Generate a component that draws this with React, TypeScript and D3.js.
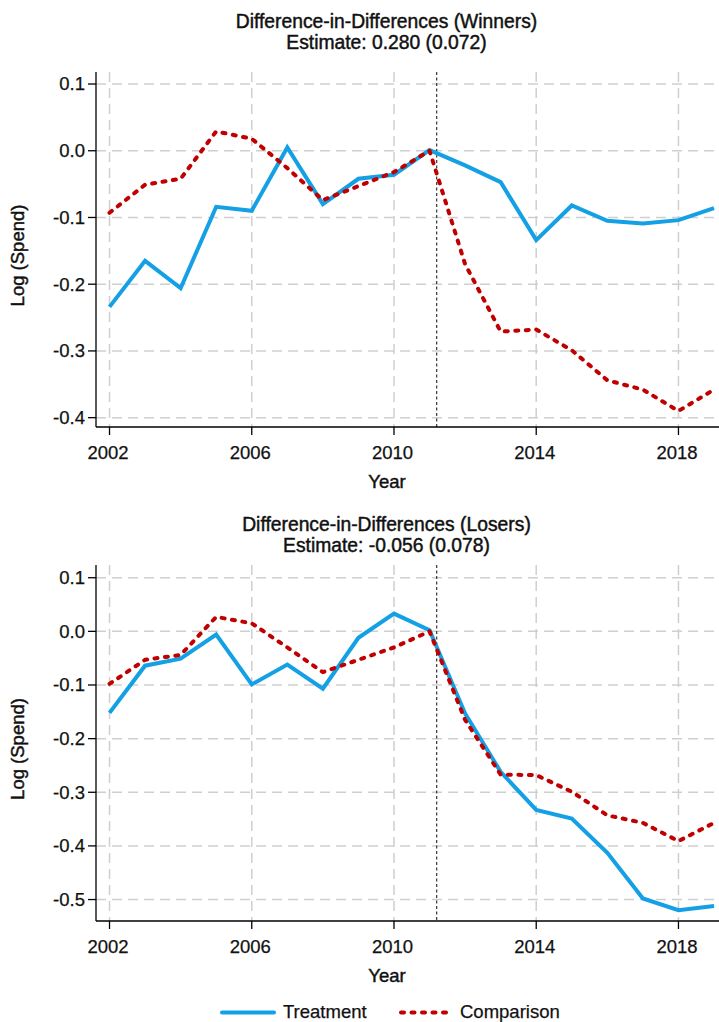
import React from 'react';
import * as d3 from 'd3';

// years on the x axis
const years = [2002, 2003, 2004, 2005, 2006, 2007, 2008, 2009, 2010, 2011, 2012, 2013, 2014, 2015, 2016, 2017, 2018, 2019];

// log spend
const winnersTreatment = [-0.234, -0.165, -0.206, -0.084, -0.090, 0.005, -0.080, -0.042, -0.036, 0.001, -0.022, -0.047, -0.134, -0.082, -0.105, -0.109, -0.104, -0.086];
const winnersComparison = [-0.093, -0.051, -0.042, 0.029, 0.018, -0.026, -0.074, -0.053, -0.032, 0.000, -0.170, -0.271, -0.268, -0.299, -0.344, -0.358, -0.390, -0.358];
const losersTreatment = [-0.152, -0.064, -0.051, -0.006, -0.099, -0.062, -0.107, -0.012, 0.033, 0.002, -0.153, -0.262, -0.333, -0.349, -0.413, -0.498, -0.520, -0.512];
const losersComparison = [-0.098, -0.053, -0.044, 0.027, 0.015, -0.030, -0.076, -0.053, -0.030, 0.000, -0.165, -0.267, -0.268, -0.299, -0.343, -0.357, -0.391, -0.357];

const xTicks = [2002, 2006, 2010, 2014, 2018];
const winnersYTicks = [0.1, 0.0, -0.1, -0.2, -0.3, -0.4];
const losersYTicks = [0.1, 0.0, -0.1, -0.2, -0.3, -0.4, -0.5];
const policyYear = 2011.2; // vertical dotted marker

const BLUE = '#14a0e4';
const RED = '#c00000';
const FONT = '"Liberation Sans", Arial, Helvetica, sans-serif';
const FS = 18.5;
const TITLE_FS = 19.3;

const x = d3.scaleLinear().domain([2001.62, 2019.14]).range([96, 719]);

interface PanelProps {
  top: number;
  bottom: number;
  yDomain: [number, number];
  yTicks: number[];
  title: string;
  estimate: string;
  titleY: number;
  treatment: number[];
  comparison: number[];
}

function Panel({ top, bottom, yDomain, yTicks, title, estimate, titleY, treatment, comparison }: PanelProps) {
  const y = d3.scaleLinear().domain(yDomain).range([bottom, top]);
  const left = x.range()[0];
  const right = x.range()[1];

  const line = d3.line<number>()
    .x((d, i) => x(years[i]))
    .y(d => y(d));

  return (
    <g>
      {/* titles */}
      <g strokeWidth={0.45} stroke="#111">
        <text x={386.5} y={titleY} dy="0.35em" textAnchor="middle" fontSize={TITLE_FS}>{title}</text>
        <text x={386.5} y={titleY + 21} dy="0.35em" textAnchor="middle" fontSize={TITLE_FS}>{estimate}</text>
      </g>

      {/* grid */}
      {yTicks.map(t => (
        <line key={'gy' + t} x1={left} x2={right} y1={y(t)} y2={y(t)}
          stroke="#cfcfcf" strokeWidth={1.5} strokeDasharray="10 6" />
      ))}
      {xTicks.map(t => (
        <line key={'gx' + t} x1={x(t)} x2={x(t)} y1={top} y2={bottom}
          stroke="#cfcfcf" strokeWidth={1.5} strokeDasharray="10 6" />
      ))}

      {/* policy line */}
      <line x1={x(policyYear)} x2={x(policyYear)} y1={top} y2={bottom}
        stroke="#444" strokeWidth={1.3} strokeDasharray="3 2.5" />

      {/* series */}
      <path d={line(treatment) || ''} fill="none" stroke={BLUE} strokeWidth={4} strokeLinejoin="miter" />
      <path d={line(comparison) || ''} fill="none" stroke={RED} strokeWidth={4}
        strokeDasharray="3 7.5" strokeLinecap="round" strokeLinejoin="round" />

      {/* axes */}
      <line x1={left} x2={left} y1={top} y2={bottom} stroke="#000" strokeWidth={1.3} />
      <line x1={left} x2={right} y1={bottom} y2={bottom} stroke="#000" strokeWidth={1.3} />
      {yTicks.map(t => (
        <g key={'ty' + t}>
          <line x1={left - 8} x2={left} y1={y(t)} y2={y(t)} stroke="#000" strokeWidth={1.3} />
          <text x={85} y={y(t)} dy="0.35em" textAnchor="end" fontSize={FS} stroke="#111" strokeWidth={0.25}>{t.toFixed(1)}</text>
        </g>
      ))}
      {xTicks.map(t => (
        <g key={'tx' + t}>
          <line x1={x(t)} x2={x(t)} y1={bottom} y2={bottom + 8} stroke="#000" strokeWidth={1.3} />
          <text x={x(t) - 1.5} y={bottom + 26} dy="0.35em" textAnchor="middle" fontSize={FS} stroke="#111" strokeWidth={0.25}>{t}</text>
        </g>
      ))}

      {/* axis titles */}
      <g stroke="#111" strokeWidth={0.45}>
        <text x={387} y={bottom + 55} dy="0.35em" textAnchor="middle" fontSize={FS}>Year</text>
        <text transform={`translate(17.5,${(top + bottom) / 2 + 6}) rotate(-90)`} dy="0.35em"
          textAnchor="middle" fontSize={FS}>Log (Spend)</text>
      </g>
    </g>
  );
}

export default function App() {
  return (
    <svg width={719} height={1022} style={{ position: 'absolute', left: 0, top: 0, background: '#fff' }}
      fontFamily={FONT} fill="#111">
      <Panel top={72} bottom={427} yDomain={[-0.414, 0.118]} yTicks={winnersYTicks}
        title="Difference-in-Differences (Winners)" estimate="Estimate: 0.280 (0.072)" titleY={21.5}
        treatment={winnersTreatment} comparison={winnersComparison} />
      <Panel top={565} bottom={921} yDomain={[-0.54, 0.1237]} yTicks={losersYTicks}
        title="Difference-in-Differences (Losers)" estimate="Estimate: -0.056 (0.078)" titleY={524.5}
        treatment={losersTreatment} comparison={losersComparison} />

      {/* legend */}
      <g>
        <line x1={222} x2={274} y1={1012.5} y2={1012.5} stroke={BLUE} strokeWidth={4} strokeLinecap="round" />
        <text x={283} y={1012} dy="0.35em" fontSize={FS} stroke="#111" strokeWidth={0.25}>Treatment</text>
        <line x1={401} x2={451} y1={1012.5} y2={1012.5} stroke={RED} strokeWidth={4}
          strokeDasharray="3 7.5" strokeLinecap="round" />
        <text x={460} y={1012} dy="0.35em" fontSize={FS} stroke="#111" strokeWidth={0.25}>Comparison</text>
      </g>
    </svg>
  );
}
